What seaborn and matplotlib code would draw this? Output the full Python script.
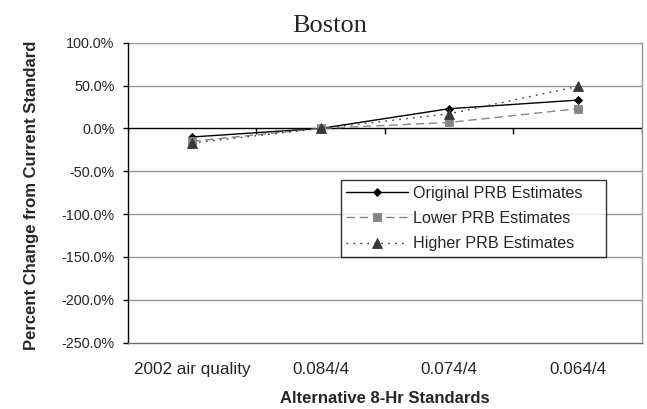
import numpy as np
import pandas as pd
import matplotlib
matplotlib.use("Agg")
import matplotlib.pyplot as plt
import seaborn as sns
from matplotlib.ticker import FuncFormatter

# data
standards = ["2002 air quality", "0.084/4", "0.074/4", "0.064/4"]
original_prb = [-10.0, 0.0, 23.0, 33.0]
lower_prb = [-15.0, 0.0, 7.0, 23.0]
higher_prb = [-17.0, 0.0, 17.0, 49.0]
series_names = ["Original PRB Estimates", "Lower PRB Estimates", "Higher PRB Estimates"]

df = pd.DataFrame({
    "x": np.arange(len(standards)),
    series_names[0]: original_prb,
    series_names[1]: lower_prb,
    series_names[2]: higher_prb,
})

sns.set_style("white")
plt.rcParams["font.family"] = ["Liberation Sans", "DejaVu Sans"]

fig = plt.figure(figsize=(6.47, 4.09), dpi=100)
ax = fig.add_axes([0.1978, 0.1621, 0.7944, 0.7335])

# per series style: colour, marker, marker size, line style
styles = {
    series_names[0]: dict(color="black", marker="D", ms=4.2, ls="-"),
    series_names[1]: dict(color="#858585", marker="s", ms=6.3, ls=(0, (6, 3.5))),
    series_names[2]: dict(color="#383838", marker="^", ms=6.8, ls=(0, (1.2, 3.8))),
}

# gridlines and the zero axis
for yv in np.arange(-200, 101, 50):
    if yv != 0:
        ax.axhline(yv, color="#969696", lw=1, zorder=0)
ax.axhline(0, color="black", lw=1, zorder=1)
ax.vlines(np.arange(-0.5, 4, 1), -6, 0, color="black", lw=1, zorder=1)

for i, name in enumerate(series_names):
    st = styles[name]
    sns.lineplot(data=df, x="x", y=name, ax=ax, label=name, color=st["color"],
                 marker=st["marker"], markersize=st["ms"], markeredgewidth=0.6,
                 markeredgecolor=st["color"], linestyle=st["ls"], lw=1, zorder=3 + i)

ax.set_xlim(-0.5, 3.5)
ax.set_ylim(-250, 100)
ax.set_yticks(np.arange(-250, 101, 50))
ax.yaxis.set_major_formatter(FuncFormatter(lambda v, p: f"{v:.1f}%"))
ax.set_xticks(range(len(standards)))
ax.set_xticklabels(standards)
ax.tick_params(axis="x", length=0, pad=14, labelsize=12.3)
ax.tick_params(axis="y", direction="out", length=3.6, width=1, color="black",
               labelsize=10.4, pad=6, left=True)

ax.spines["top"].set_visible(False)
ax.spines["right"].set_color("#969696")
ax.spines["bottom"].set_color("#6e6e6e")
ax.spines["left"].set_color("black")
for s in ["right", "bottom", "left"]:
    ax.spines[s].set_linewidth(1)

fig.text(330 / 647, (409 - 32) / 409, "Boston", ha="center", va="baseline",
         fontsize=19, family=["Liberation Serif", "DejaVu Serif"])
ax.set_xlabel("Alternative 8-Hr Standards", fontsize=12, fontweight="bold", labelpad=10)
ax.set_ylabel("Percent Change from Current Standard", fontsize=12, fontweight="bold")
ax.yaxis.set_label_coords(-0.174, 0.49)

leg = ax.legend(loc="upper left", bbox_to_anchor=(0.4138, 0.5423, 0.5156, 0.0), mode="expand",
                fontsize=11.6, frameon=True, fancybox=False, handlelength=3.85,
                borderpad=0.36, labelspacing=0.64, handletextpad=0.3, borderaxespad=0)
leg.get_frame().set_edgecolor("black")
leg.get_frame().set_linewidth(1)

fig.savefig("out.png", dpi=100)
plt.close(fig)
